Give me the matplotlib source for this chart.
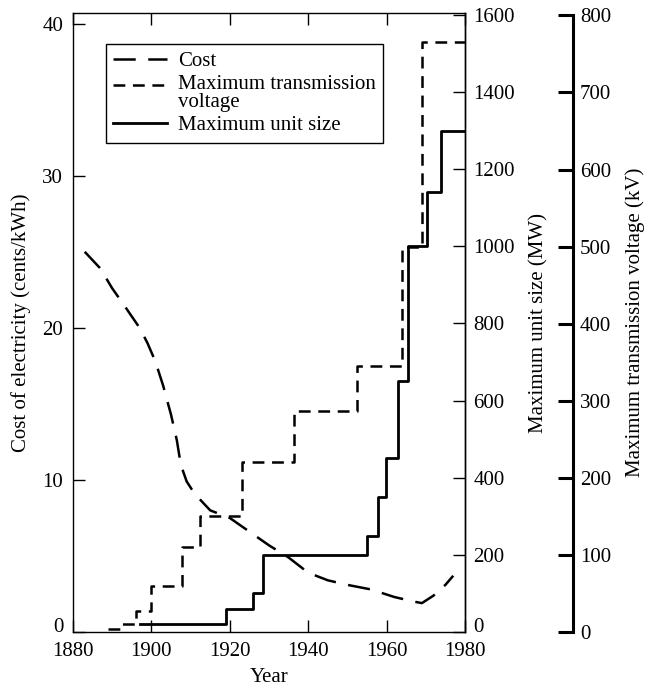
import numpy as np
import matplotlib
matplotlib.use("Agg")
import matplotlib.pyplot as plt
from matplotlib.transforms import ScaledTranslation

#values
#cost of electricity (cents/kWh), long dashed curve
cost_year = [1883, 1887, 1890, 1893, 1897, 1899, 1901, 1903, 1905, 1906.5, 1907.5, 1909, 1911, 1915,
             1920, 1925, 1930, 1935, 1940, 1945, 1950, 1956, 1962, 1967, 1969, 1972, 1975, 1977]
cost_value = [25.0, 23.9, 22.6, 21.5, 20.0, 19.0, 17.8, 16.2, 14.3, 12.6, 11.0, 9.9, 9.1, 8.0,
              7.5, 6.6, 5.7, 4.9, 3.9, 3.4, 3.1, 2.8, 2.3, 2.0, 1.9, 2.4, 3.1, 3.7]

#maximum unit size (MW), solid steps
unit_year = [1897, 1919, 1926, 1928.5, 1955, 1957.8, 1959.8, 1963, 1965.4, 1970.3, 1973.8, 1980]
unit_size = [20, 60, 100, 200, 250, 350, 450, 650, 1000, 1140, 1300, 1300]

#maximum transmission voltage (kV), short dashed steps
volt_year = [1889, 1892, 1896, 1900, 1907.7, 1912.4, 1923, 1936.3, 1952.4, 1964, 1969, 1980]
volt_kv = [4, 11, 27, 60, 110, 150, 220, 287, 345, 500, 765, 765]

year_ticks = [1880, 1900, 1920, 1940, 1960, 1980]
cost_ticks = [0, 10, 20, 30, 40]
mw_ticks = [0, 200, 400, 600, 800, 1000, 1200, 1400, 1600]
kv_ticks = [0, 100, 200, 300, 400, 500, 600, 700, 800]

plt.rcParams['font.family'] = 'serif'
plt.rcParams['font.serif'] = ['Liberation Serif', 'DejaVu Serif']
plt.rcParams['font.size'] = 15
plt.rcParams['lines.scale_dashes'] = False

fig = plt.figure(figsize=(6.47, 6.89), dpi=100)
ax = fig.add_axes([0.1128, 0.0827, 0.6059, 0.8984])
ax2 = ax.twinx()
ax3 = ax.twinx()

l_cost, = ax.plot(cost_year, cost_value, color='black', lw=1.8, dashes=(16, 9),
                  label='Cost')
l_unit, = ax2.plot(unit_year, unit_size, color='black', lw=2.0, drawstyle='steps-post',
                   label='Maximum unit size')
l_volt, = ax3.plot(volt_year, volt_kv, color='black', lw=1.8, dashes=(8.5, 5.5),
                   drawstyle='steps-post', label='Maximum transmission\nvoltage')

#main axes
ax.set_xlim(1880, 1980)
ax.set_ylim(0, 40.7)
ax.set_xticks(year_ticks)
ax.set_yticks(cost_ticks)
ax.tick_params(axis='both', direction='in', length=8.5, width=1.0, pad=7)
ax.tick_params(axis='x', top=True, labeltop=False)
for s in ax.spines.values():
    s.set_linewidth(1.0)
ax.set_xlabel('Year', labelpad=5)
ax.set_ylabel('Cost of electricity (cents/kWh)', labelpad=8)

#unit size axis on the right spine
ax2.set_ylim(0, 1605)
ax2.set_yticks(mw_ticks)
ax2.tick_params(axis='y', direction='in', length=8.5, width=1.0, pad=6)
for k in ['left', 'top', 'bottom']:
    ax2.spines[k].set_visible(False)
ax2.spines['right'].set_linewidth(1.0)
ax2.set_ylabel('Maximum unit size (MW)', labelpad=10)

#the zero labels sit a little above the corner so they clear the year labels
ax.get_yticklabels()[0].set_verticalalignment('baseline')
ax2.get_yticklabels()[0].set_verticalalignment('baseline')

#voltage axis, detached heavy spine
ax3.set_ylim(0, 803)
ax3.set_yticks(kv_ticks)
for k in ['left', 'top', 'bottom']:
    ax3.spines[k].set_visible(False)
ax3.spines['right'].set_position(('axes', 1.2755))
ax3.spines['right'].set_bounds(0, 800)
ax3.spines['right'].set_linewidth(2.2)
ax3.tick_params(axis='y', direction='in', length=11, width=2.2, pad=5)
ax3.set_ylabel('Maximum transmission voltage (kV)', labelpad=10)

leg = ax3.legend(handles=[l_cost, l_volt, l_unit], loc='upper left',
                 bbox_to_anchor=(0.084, 0.95), borderaxespad=0, fancybox=False,
                 edgecolor='black', framealpha=1, borderpad=0.35, labelspacing=0.2,
                 handlelength=2.6, handletextpad=0.5, fontsize=15)
leg.get_frame().set_linewidth(1.0)
for t in leg.get_texts():
    t.set_linespacing(0.9)
#put the voltage handle on the first line of its two-line label
hl = leg.get_lines()[1]
hl.set_transform(hl.get_transform() + ScaledTranslation(0, 6 / 72, fig.dpi_scale_trans))

fig.savefig('out.png', dpi=100)
